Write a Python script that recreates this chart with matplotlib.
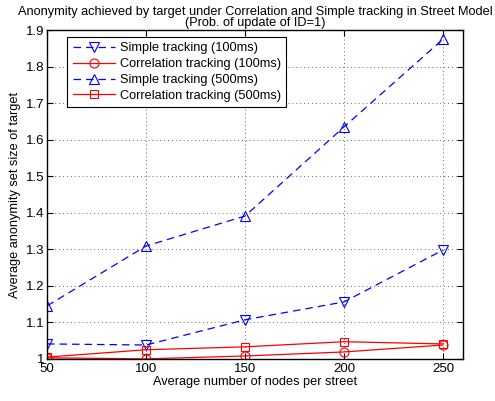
import matplotlib
matplotlib.use('Agg')
import matplotlib.pyplot as plt

plt.rcParams['font.family'] = ['Liberation Sans', 'DejaVu Sans']

nodes = [50, 100, 150, 200, 250]
simple_100 = [1.041, 1.038, 1.107, 1.156, 1.298]
corr_100 = [1.003, 1.000, 1.008, 1.019, 1.038]
simple_500 = [1.145, 1.309, 1.391, 1.635, 1.875]
corr_500 = [1.005, 1.025, 1.033, 1.047, 1.041]

fig = plt.figure(figsize=(4.95, 4.01), dpi=100)
ax = fig.add_axes([0.095, 0.105, 0.84, 0.82])

ax.plot(nodes, simple_100, 'b--v', mfc='none', ms=6.5, mew=0.8, lw=0.9, dashes=(6, 4), label='Simple tracking (100ms)')
ax.plot(nodes, corr_100, 'r-o', mfc='none', ms=6.5, mew=0.8, lw=0.9, label='Correlation tracking (100ms)')
ax.plot(nodes, simple_500, 'b--^', mfc='none', ms=6.5, mew=0.8, lw=0.9, dashes=(6, 4), label='Simple tracking (500ms)')
ax.plot(nodes, corr_500, 'r-s', mfc='none', ms=5.5, mew=0.8, lw=0.9, label='Correlation tracking (500ms)')

ax.set_xlim(50, 260)
ax.set_ylim(1.0, 1.9)
ax.set_xticks(nodes)
ax.set_yticks([1.0, 1.1, 1.2, 1.3, 1.4, 1.5, 1.6, 1.7, 1.8, 1.9])
ax.set_yticklabels(['1', '1.1', '1.2', '1.3', '1.4', '1.5', '1.6', '1.7', '1.8', '1.9'])
ax.tick_params(direction='in', labelsize=9.5, top=True, right=True, length=4, pad=2)
ax.tick_params(axis='x', pad=3)
ax.grid(True, linestyle=(0, (1, 3)), color='#666666', lw=0.7)
for s in ax.spines.values():
    s.set_linewidth(1.0)

ax.set_xlabel('Average number of nodes per street', fontsize=9.2, labelpad=1)
ax.set_ylabel('Average anonymity set size of target', fontsize=9.2, labelpad=3)
ax.set_title('Anonymity achieved by target under Correlation and Simple tracking in Street Model\n(Prob. of update of ID=1)',
             fontsize=9.2, linespacing=0.85, pad=3)

leg = ax.legend(loc='upper left', bbox_to_anchor=(0.04, 0.99), fontsize=9.2, fancybox=False,
                edgecolor='black', framealpha=1, handlelength=3.3, borderaxespad=0.3,
                labelspacing=0.3, handletextpad=0.4, borderpad=0.4)
leg.get_frame().set_linewidth(0.8)

fig.savefig('out.png', dpi=100)
